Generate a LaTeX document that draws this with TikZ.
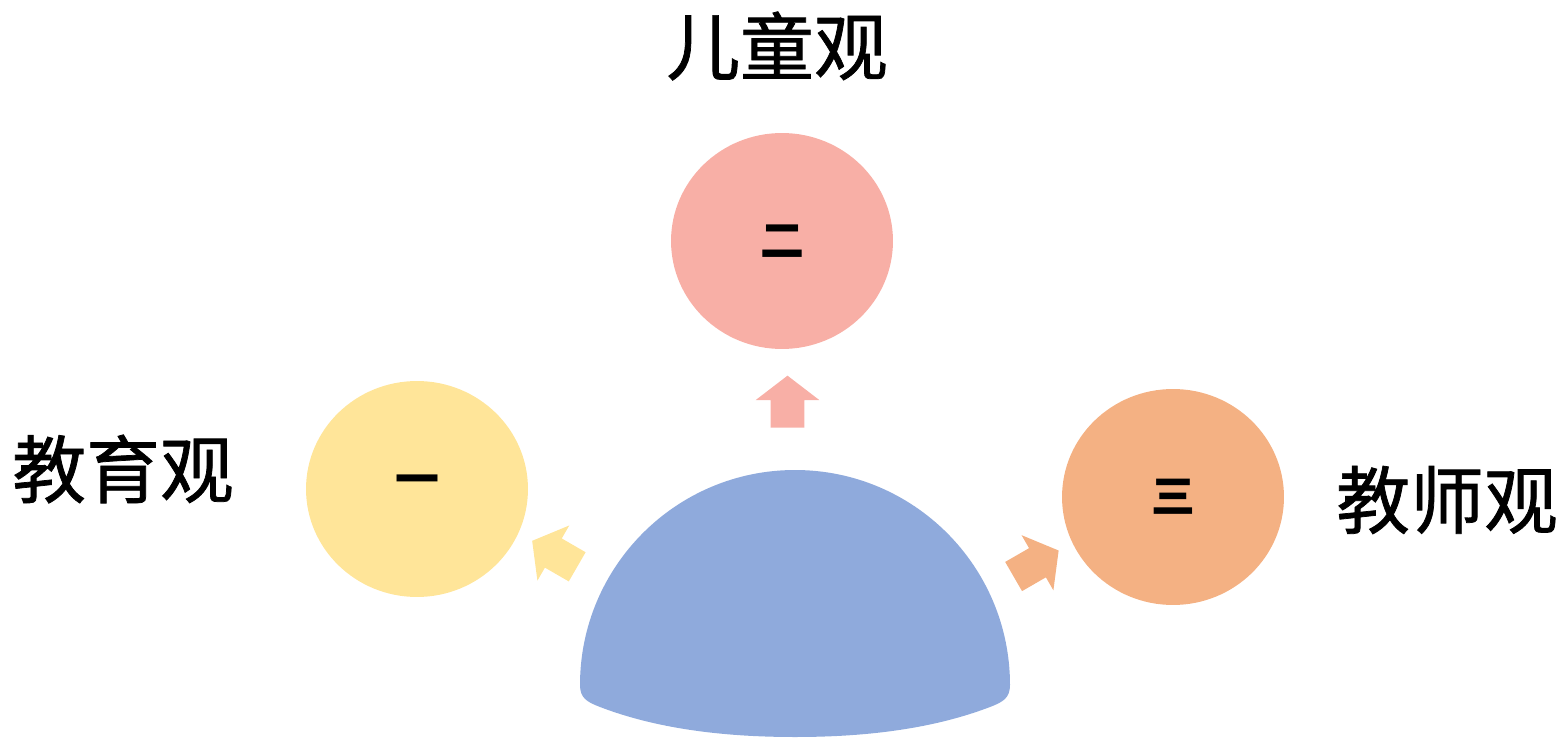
\documentclass[tikz,border=0pt]{standalone}
\usepackage{fontspec}
\setmainfont{Noto Sans CJK SC}
\newfontfamily\wordfont[FakeBold=1]{Noto Sans CJK SC}
\usepackage{tikz}
\usetikzlibrary{shapes.geometric, shapes.arrows, positioning}

\definecolor{domeblue}{RGB}{143,170,220}
\definecolor{ballpink}{RGB}{248,175,166}
\definecolor{ballyellow}{RGB}{255,229,153}
\definecolor{ballorange}{RGB}{244,177,131}

\begin{document}
\begin{tikzpicture}[x=0.02cm, y=0.02cm,
    ball/.style={ellipse, minimum width=4.44cm, minimum height=4.32cm, inner sep=0pt,
                 font=\fontsize{25}{30}\selectfont\bfseries},
    uparrow/.style={single arrow, anchor=tail, inner xsep=0pt, inner ysep=0.33cm,
                    minimum height=1.04cm, minimum width=1.26cm,
                    single arrow head extend=0.3cm, single arrow tip angle=105},
    bigword/.style={font=\wordfont\fontsize{42}{50}\selectfont}]
       \useasboundingbox (0,0) rectangle (1562,738);
       %\draw [step=50] (0,0) grid (1562,738);
       % dome
       \fill[domeblue] (580,53) arc[start angle=180, end angle=0, radius=215]
            .. controls (1010,40) and (1003,36) .. (990,31)
            .. controls (935,10) and (870,1) .. (795,1)
            .. controls (720,1) and (655,10) .. (600,31)
            .. controls (587,36) and (580,40) .. (580,53) -- cycle;
       % balls
       \node[ball, fill=ballpink] (two) at (782,497) {二};
       \node[ball, fill=ballyellow] (one) at (417,249) {\raisebox{0.16cm}{一}};
       \node[ball, fill=ballorange] (three) at (1173,241) {三};
       % arrows
       \node[uparrow, fill=ballpink, rotate=90] (aup) at (787.5,310) {};
       \node[uparrow, fill=ballyellow, rotate=150] (aleft) at (577.5,171) {};
       \node[uparrow, fill=ballorange, rotate=30] (aright) at (1013.3,161.3) {};
       % words
       \node[bigword] (child) at (777,692) {儿童观};
       \node[bigword] (edu) at (123,269) {教育观};
       \node[bigword] (teacher) at (1447,238) {教师观};
\end{tikzpicture}
\end{document}
